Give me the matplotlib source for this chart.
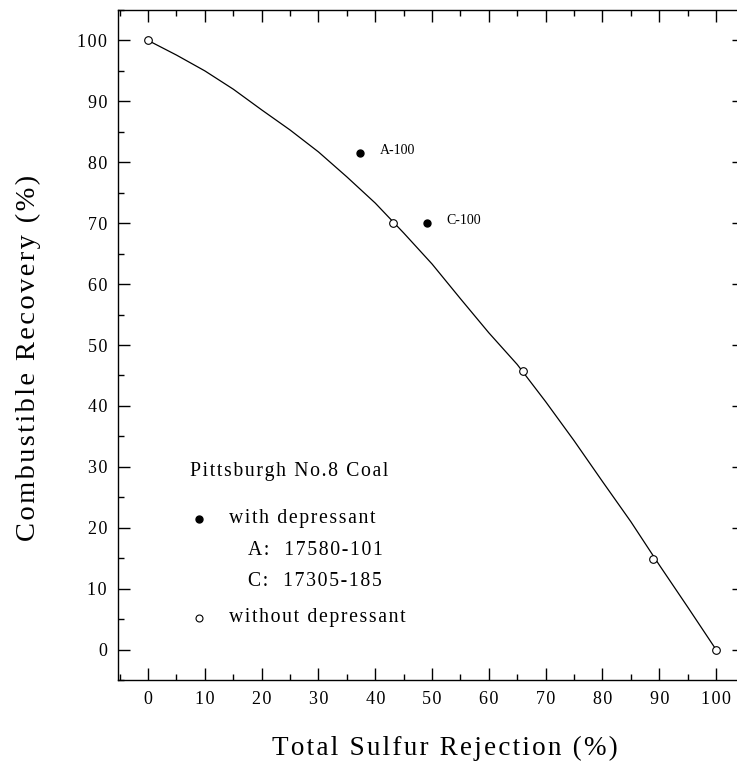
import matplotlib
matplotlib.use("Agg")
import matplotlib.pyplot as plt
from matplotlib.ticker import MultipleLocator, FuncFormatter

plt.rcParams['font.family'] = ['Liberation Serif', 'DejaVu Serif']

# smooth curve
curve_x = [0, 5, 10, 15, 20, 25, 30, 35, 40, 45, 50, 55, 60, 65, 70, 75, 80, 85, 90, 95, 100]
curve_y = [100, 97.6, 95.0, 92.0, 88.6, 85.3, 81.7, 77.6, 73.3, 68.4, 63.3, 57.6, 52.0, 46.8, 40.7, 34.3, 27.6, 21.0, 13.9, 7.0, 0]

# without depressant (open circles)
open_x = [0, 43.1, 66.0, 88.9, 100]
open_y = [100, 70.0, 45.7, 14.9, 0]

# with depressant (filled)
fill_x = [37.3, 49.1]
fill_lab = ['A-100', 'C-100']
fill_y = [81.6, 70.1]


def sp(s):
    # the scan has wide letter spacing
    return '\u200a'.join(s)


W, H = 737, 768
fig = plt.figure(figsize=(W/100, H/100), dpi=100)
# axes runs a little past the right edge, like the scan
ax = fig.add_axes([118/W, 88/H, (744.4-118)/W, 670/H])

ax.plot(curve_x, curve_y, color='black', lw=0.9)
ax.plot(open_x, open_y, 'o', mfc='white', mec='black', ms=5.5, mew=0.8)
ax.plot(fill_x, fill_y, 'o', color='black', ms=5)
for x, y, t in zip(fill_x, fill_y, fill_lab):
    ax.text(x + 3.5, y + 0.4, t, fontsize=10, va='center', ha='left')

ax.set_xlim(-5.3, 105)
ax.set_ylim(-5, 105)
ax.xaxis.set_major_locator(MultipleLocator(10))
ax.xaxis.set_minor_locator(MultipleLocator(5))
ax.yaxis.set_major_locator(MultipleLocator(10))
ax.yaxis.set_minor_locator(MultipleLocator(5))
fmt = FuncFormatter(lambda v, p: sp('%d' % round(v)))
ax.xaxis.set_major_formatter(fmt)
ax.yaxis.set_major_formatter(fmt)
ax.tick_params(which='both', direction='in', top=True, right=True, width=1.0,
               labelsize=13, pad=8)
ax.tick_params(which='major', length=8.5)
ax.tick_params(which='minor', length=4.3)
for s in ax.spines.values():
    s.set_linewidth(1.0)

# legend drawn as text
fs = 14.2
ax.text(7.4, 29.2, sp('Pittsburgh No.8 Coal'), fontsize=fs, va='center')
ax.plot([9.0], [21.5], 'o', color='black', ms=5)
ax.text(14.3, 21.5, sp('with depressant'), fontsize=fs, va='center')
ax.text(17.6, 16.3, sp('A:  17580-101'), fontsize=fs, va='center')
ax.text(17.6, 11.2, sp('C:  17305-185'), fontsize=fs, va='center')
ax.plot([9.0], [5.25], 'o', mfc='white', mec='black', ms=5, mew=0.8)
ax.text(14.3, 5.25, sp('without depressant'), fontsize=fs, va='center')

fig.text(445/W, 1 - 748/H, sp('Total Sulfur Rejection (%)'), fontsize=19.5,
         ha='center', va='center')
fig.text(28/W, 1 - 358/H, sp('Combustible Recovery (%)'), fontsize=20.5,
         rotation=90, ha='center', va='center')

fig.savefig('out.png', dpi=100)
